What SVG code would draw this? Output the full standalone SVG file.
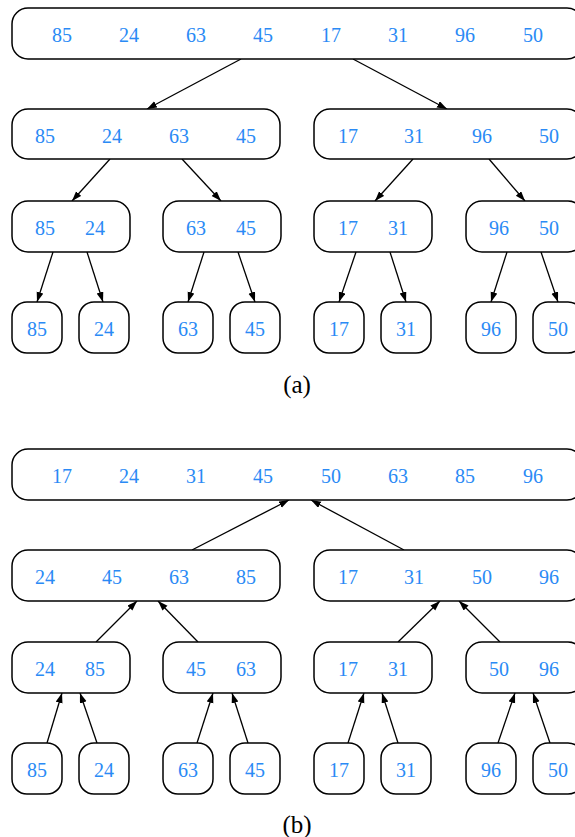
<svg xmlns="http://www.w3.org/2000/svg" width="575" height="837" viewBox="0 0 575 837">
<style>
.b{fill:#fff;stroke:#000;stroke-width:1.5}
.t{font-family:"Liberation Serif",serif;font-size:20px;fill:#2a8af5;text-anchor:middle}
.c{stroke:#000;stroke-width:1.3;fill:none;marker-end:url(#ah)}
.cap{font-family:"Liberation Serif",serif;font-size:25px;fill:#000;text-anchor:middle}
</style>
<defs>
<marker id="ah" markerUnits="userSpaceOnUse" markerWidth="12" markerHeight="8" refX="10" refY="3.5" orient="auto">
<path d="M0,0 L10,3.5 L0,7 Z" fill="#000"/>
</marker>
</defs>
<g id="connectors">
<line class="c" x1="241" y1="59" x2="147" y2="109"/>
<line class="c" x1="353" y1="59" x2="447" y2="109"/>
<line class="c" x1="110" y1="159" x2="72" y2="201"/>
<line class="c" x1="182" y1="159" x2="221" y2="201"/>
<line class="c" x1="413" y1="159" x2="375" y2="201"/>
<line class="c" x1="489" y1="159" x2="525" y2="201"/>
<line class="c" x1="53" y1="252" x2="37" y2="302"/>
<line class="c" x1="87" y1="252" x2="103" y2="302"/>
<line class="c" x1="204" y1="252" x2="188" y2="302"/>
<line class="c" x1="238" y1="252" x2="255" y2="302"/>
<line class="c" x1="356" y1="252" x2="339" y2="302"/>
<line class="c" x1="390" y1="252" x2="406" y2="302"/>
<line class="c" x1="507" y1="252" x2="491" y2="302"/>
<line class="c" x1="541" y1="252" x2="558" y2="302"/>
<line class="c" x1="192" y1="550" x2="289" y2="500"/>
<line class="c" x1="404" y1="550" x2="311" y2="500"/>
<line class="c" x1="96" y1="642" x2="137" y2="601"/>
<line class="c" x1="198" y1="642" x2="158" y2="601"/>
<line class="c" x1="398" y1="642" x2="440" y2="601"/>
<line class="c" x1="500" y1="642" x2="459" y2="601"/>
<line class="c" x1="47" y1="743" x2="62" y2="693"/>
<line class="c" x1="97" y1="743" x2="80" y2="693"/>
<line class="c" x1="197" y1="743" x2="213" y2="693"/>
<line class="c" x1="248" y1="743" x2="232" y2="693"/>
<line class="c" x1="348" y1="743" x2="364" y2="693"/>
<line class="c" x1="398" y1="743" x2="382" y2="693"/>
<line class="c" x1="498" y1="743" x2="515" y2="693"/>
<line class="c" x1="550" y1="743" x2="533" y2="693"/>
</g>
<g id="a_root"><rect class="b" x="12" y="8" width="571" height="51" rx="16"/>
<text class="t" y="42"><tspan x="62">85</tspan><tspan x="129">24</tspan><tspan x="196">63</tspan><tspan x="263">45</tspan><tspan x="331">17</tspan><tspan x="398">31</tspan><tspan x="465">96</tspan><tspan x="533">50</tspan></text></g>
<g id="a_l"><rect class="b" x="12" y="109" width="268" height="50" rx="16"/>
<text class="t" y="143"><tspan x="45">85</tspan><tspan x="112">24</tspan><tspan x="179">63</tspan><tspan x="246">45</tspan></text></g>
<g id="a_r"><rect class="b" x="314" y="109" width="269" height="50" rx="16"/>
<text class="t" y="143"><tspan x="348">17</tspan><tspan x="414">31</tspan><tspan x="482">96</tspan><tspan x="549">50</tspan></text></g>
<g id="a_ll"><rect class="b" x="12" y="201" width="118" height="51" rx="16"/>
<text class="t" y="235"><tspan x="45">85</tspan><tspan x="95">24</tspan></text></g>
<g id="a_lr"><rect class="b" x="163" y="201" width="118" height="51" rx="16"/>
<text class="t" y="235"><tspan x="196">63</tspan><tspan x="246">45</tspan></text></g>
<g id="a_rl"><rect class="b" x="314" y="201" width="118" height="51" rx="16"/>
<text class="t" y="235"><tspan x="348">17</tspan><tspan x="398">31</tspan></text></g>
<g id="a_rr"><rect class="b" x="466" y="201" width="118" height="51" rx="16"/>
<text class="t" y="235"><tspan x="499">96</tspan><tspan x="549">50</tspan></text></g>
<g id="a_leaf1"><rect class="b" x="12" y="302" width="50" height="51" rx="15"/><text class="t" x="37" y="336">85</text></g>
<g id="a_leaf2"><rect class="b" x="79" y="302" width="50" height="51" rx="15"/><text class="t" x="104" y="336">24</text></g>
<g id="a_leaf3"><rect class="b" x="163" y="302" width="50" height="51" rx="15"/><text class="t" x="188" y="336">63</text></g>
<g id="a_leaf4"><rect class="b" x="230" y="302" width="50" height="51" rx="15"/><text class="t" x="255" y="336">45</text></g>
<g id="a_leaf5"><rect class="b" x="314" y="302" width="50" height="51" rx="15"/><text class="t" x="339" y="336">17</text></g>
<g id="a_leaf6"><rect class="b" x="381" y="302" width="50" height="51" rx="15"/><text class="t" x="406" y="336">31</text></g>
<g id="a_leaf7"><rect class="b" x="466" y="302" width="50" height="51" rx="15"/><text class="t" x="491" y="336">96</text></g>
<g id="a_leaf8"><rect class="b" x="533" y="302" width="50" height="51" rx="15"/><text class="t" x="558" y="336">50</text></g>
<text class="cap" x="297" y="393">(a)</text>

<g id="b_root"><rect class="b" x="12" y="449" width="571" height="51" rx="16"/>
<text class="t" y="483"><tspan x="62">17</tspan><tspan x="129">24</tspan><tspan x="196">31</tspan><tspan x="263">45</tspan><tspan x="331">50</tspan><tspan x="398">63</tspan><tspan x="465">85</tspan><tspan x="533">96</tspan></text></g>
<g id="b_l"><rect class="b" x="12" y="550" width="268" height="51" rx="16"/>
<text class="t" y="584"><tspan x="45">24</tspan><tspan x="112">45</tspan><tspan x="179">63</tspan><tspan x="246">85</tspan></text></g>
<g id="b_r"><rect class="b" x="314" y="550" width="269" height="51" rx="16"/>
<text class="t" y="584"><tspan x="348">17</tspan><tspan x="414">31</tspan><tspan x="482">50</tspan><tspan x="549">96</tspan></text></g>
<g id="b_ll"><rect class="b" x="12" y="642" width="118" height="51" rx="16"/>
<text class="t" y="676"><tspan x="45">24</tspan><tspan x="95">85</tspan></text></g>
<g id="b_lr"><rect class="b" x="163" y="642" width="118" height="51" rx="16"/>
<text class="t" y="676"><tspan x="196">45</tspan><tspan x="246">63</tspan></text></g>
<g id="b_rl"><rect class="b" x="314" y="642" width="118" height="51" rx="16"/>
<text class="t" y="676"><tspan x="348">17</tspan><tspan x="398">31</tspan></text></g>
<g id="b_rr"><rect class="b" x="466" y="642" width="118" height="51" rx="16"/>
<text class="t" y="676"><tspan x="499">50</tspan><tspan x="549">96</tspan></text></g>
<g id="b_leaf1"><rect class="b" x="12" y="743" width="50" height="51" rx="15"/><text class="t" x="37" y="777">85</text></g>
<g id="b_leaf2"><rect class="b" x="79" y="743" width="50" height="51" rx="15"/><text class="t" x="104" y="777">24</text></g>
<g id="b_leaf3"><rect class="b" x="163" y="743" width="50" height="51" rx="15"/><text class="t" x="188" y="777">63</text></g>
<g id="b_leaf4"><rect class="b" x="230" y="743" width="50" height="51" rx="15"/><text class="t" x="255" y="777">45</text></g>
<g id="b_leaf5"><rect class="b" x="314" y="743" width="50" height="51" rx="15"/><text class="t" x="339" y="777">17</text></g>
<g id="b_leaf6"><rect class="b" x="381" y="743" width="50" height="51" rx="15"/><text class="t" x="406" y="777">31</text></g>
<g id="b_leaf7"><rect class="b" x="466" y="743" width="50" height="51" rx="15"/><text class="t" x="491" y="777">96</text></g>
<g id="b_leaf8"><rect class="b" x="533" y="743" width="50" height="51" rx="15"/><text class="t" x="558" y="777">50</text></g>
<text class="cap" x="297" y="833">(b)</text>
</svg>
